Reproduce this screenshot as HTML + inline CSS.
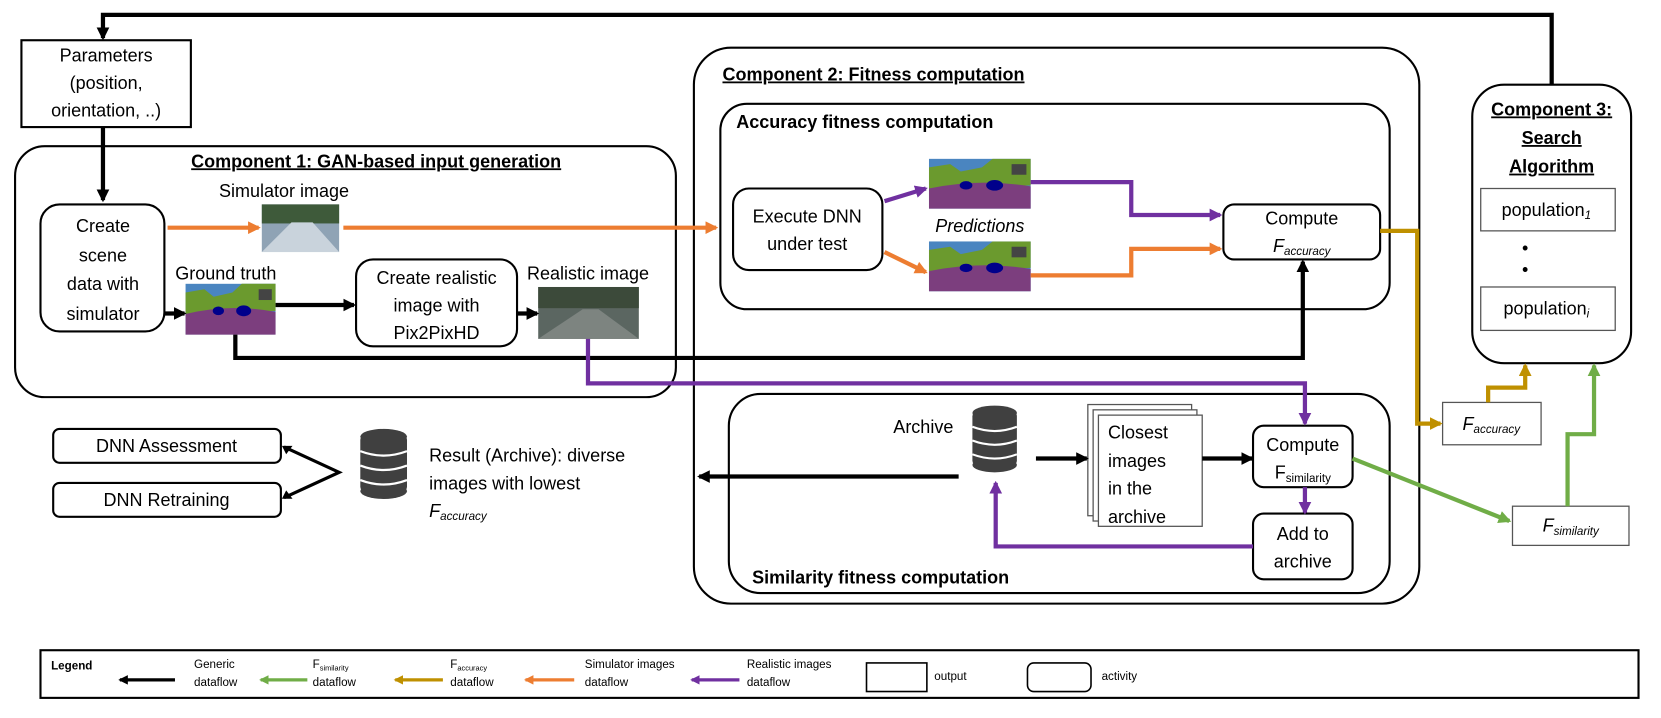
<!DOCTYPE html>
<html><head><meta charset="utf-8"><style>
html,body{margin:0;padding:0;background:#fff;}
svg{display:block;font-family:"Liberation Sans",sans-serif;}
</style></head><body>
<svg width="1661" height="718" viewBox="0 0 1568 678" xmlns="http://www.w3.org/2000/svg">
<defs>
<marker id="ak" viewBox="0 0 6 6" markerWidth="3" markerHeight="3" refX="5" refY="3" orient="auto" markerUnits="strokeWidth"><path d="M0,0 L6,3 L0,6 z" fill="#000"/></marker>
<marker id="ao" viewBox="0 0 6 6" markerWidth="3" markerHeight="3" refX="5" refY="3" orient="auto" markerUnits="strokeWidth"><path d="M0,0 L6,3 L0,6 z" fill="#ed7d31"/></marker>
<marker id="ap" viewBox="0 0 6 6" markerWidth="3" markerHeight="3" refX="5" refY="3" orient="auto" markerUnits="strokeWidth"><path d="M0,0 L6,3 L0,6 z" fill="#7030a0"/></marker>
<marker id="ag" viewBox="0 0 6 6" markerWidth="3" markerHeight="3" refX="5" refY="3" orient="auto" markerUnits="strokeWidth"><path d="M0,0 L6,3 L0,6 z" fill="#70ad47"/></marker>
<marker id="ay" viewBox="0 0 6 6" markerWidth="3" markerHeight="3" refX="5" refY="3" orient="auto" markerUnits="strokeWidth"><path d="M0,0 L6,3 L0,6 z" fill="#bf9000"/></marker>
<g id="seg">
<rect x="0" y="0" width="96" height="47" fill="#4a85c0"/>
<path d="M0,8 L20,5 L30,12 L50,8 L60,0 L96,0 L96,25 L0,28z" fill="#6b9a2e"/>
<rect x="78" y="5" width="14" height="10" fill="#444"/>
<path d="M0,28 Q48,18 96,26 L96,47 L0,47z" fill="#7c3e7e"/>
<ellipse cx="35" cy="25" rx="6" ry="4" fill="#00008b"/>
<ellipse cx="62" cy="25" rx="8" ry="5" fill="#00008b"/>
</g>
<g id="cyl">
<rect x="0" y="6" width="42" height="50" rx="4" fill="#404040"/>
<ellipse cx="21" cy="7" rx="21" ry="7" fill="#404040"/>
<ellipse cx="21" cy="56" rx="21" ry="7" fill="#404040"/>
<path d="M0,20 Q21,28 42,20 M0,33 Q21,41 42,33 M0,46 Q21,54 42,46" stroke="#fff" stroke-width="2" fill="none"/>
</g>
</defs>

<g fill="none" stroke="#000" stroke-width="2">
<polyline points="1465,80 1465,14 97,14 97,36" stroke-width="4" marker-end="url(#ak)"/>
<rect x="20" y="38" width="160" height="82" stroke-width="2"/>
<line x1="97" y1="120" x2="97" y2="189" stroke-width="4" marker-end="url(#ak)"/>
<rect x="14" y="138" width="624" height="237" rx="28"/>
<rect x="655" y="45" width="685" height="525" rx="35"/>
<rect x="680" y="98" width="632" height="194" rx="25"/>
<rect x="688" y="372" width="624" height="188" rx="30"/>
<rect x="1390" y="80" width="150" height="263" rx="30"/>
<rect x="38" y="193" width="117" height="120" rx="18"/>
<rect x="336" y="245" width="152" height="82" rx="16"/>
<rect x="692" y="178" width="141" height="77" rx="15"/>
<rect x="1155" y="193" width="148" height="52" rx="10"/>
<rect x="1183" y="402" width="94" height="58" rx="10"/>
<rect x="1183" y="485" width="94" height="62" rx="10"/>
<rect x="50" y="405" width="215" height="32" rx="6"/>
<rect x="50" y="456" width="215" height="32" rx="6"/>
</g>
<g fill="#fff" stroke="#555" stroke-width="1.2">
<rect x="1398" y="178" width="127" height="40"/>
<rect x="1398" y="271" width="127" height="41"/>
<rect x="1362" y="380" width="93" height="40"/>
<rect x="1428" y="478" width="110" height="37"/>
<rect x="1027" y="382" width="98" height="105"/>
<rect x="1032" y="387" width="98" height="105"/>
<rect x="1037" y="392" width="98" height="105"/>
</g>

<g>
<rect x="247" y="193" width="73" height="45" fill="#8fa3b5"/>
<rect x="247" y="193" width="73" height="18" fill="#3e5a3a"/>
<path d="M247,238 L275,210 L295,210 L320,238z" fill="#c9d3dc"/>
<rect x="508" y="271" width="95" height="49" fill="#5b6661"/>
<rect x="508" y="271" width="95" height="20" fill="#3c4a3a"/>
<path d="M508,320 L550,292 L565,292 L603,320z" fill="#7d8480"/>
<use href="#seg" transform="translate(175,268) scale(0.885,1.02)"/>
<use href="#seg" transform="translate(877,150)"/>
<use href="#seg" transform="translate(877,228)"/>
<use href="#cyl" transform="translate(918,383)"/>
<use href="#cyl" transform="translate(340,405) scale(1.05,1.05)"/>
</g>

<g fill="none" stroke-width="4">
<line x1="158" y1="215" x2="244" y2="215" stroke="#ed7d31" marker-end="url(#ao)"/>
<line x1="324" y1="215" x2="676" y2="215" stroke="#ed7d31" marker-end="url(#ao)"/>
<line x1="155" y1="296" x2="174" y2="296" stroke="#000" marker-end="url(#ak)"/>
<line x1="260" y1="288" x2="334" y2="288" stroke="#000" marker-end="url(#ak)"/>
<line x1="488" y1="296" x2="507" y2="296" stroke="#000" marker-end="url(#ak)"/>
<polyline points="222,316 222,338 1230,338 1230,247" stroke="#000" marker-end="url(#ak)"/>
<polyline points="555,320 555,362 1232,362 1232,400" stroke="#7030a0" marker-end="url(#ap)"/>
<line x1="835" y1="190" x2="874" y2="178" stroke="#7030a0" marker-end="url(#ap)"/>
<line x1="835" y1="238" x2="874" y2="257" stroke="#ed7d31" marker-end="url(#ao)"/>
<polyline points="973,172 1068,172 1068,203 1152,203" stroke="#7030a0" marker-end="url(#ap)"/>
<polyline points="973,260 1068,260 1068,235 1152,235" stroke="#ed7d31" marker-end="url(#ao)"/>
<polyline points="1303,218 1338,218 1338,400 1360,400" stroke="#bf9000" marker-end="url(#ay)"/>
<polyline points="1405,380 1405,366 1440,366 1440,345" stroke="#bf9000" marker-end="url(#ay)"/>
<line x1="1277" y1="433" x2="1425" y2="492" stroke="#70ad47" marker-end="url(#ag)"/>
<polyline points="1480,478 1480,410 1505,410 1505,345" stroke="#70ad47" marker-end="url(#ag)"/>
<line x1="978" y1="433" x2="1026" y2="433" stroke="#000" marker-end="url(#ak)"/>
<line x1="1135" y1="433" x2="1182" y2="433" stroke="#000" marker-end="url(#ak)"/>
<line x1="1232" y1="460" x2="1232" y2="484" stroke="#7030a0" marker-end="url(#ap)"/>
<polyline points="1183,516 940,516 940,456" stroke="#7030a0" marker-end="url(#ap)"/>
<line x1="905" y1="450" x2="660" y2="450" stroke="#000" marker-end="url(#ak)"/>
<polyline points="268,422 320,446 268,470" stroke="#000" stroke-width="3"/>
<path d="M266,421 l10,0 l-6,8z M266,471 l10,0 l-6,-8z" fill="#000" stroke="none"/>
</g>

<g font-size="17" fill="#000" text-anchor="middle">
<text x="100" y="58">Parameters</text>
<text x="100" y="84">(position,</text>
<text x="100" y="110">orientation, ..)</text>
<text x="355" y="158" font-weight="bold" text-decoration="underline">Component 1: GAN-based input generation</text>
<text x="97" y="219">Create</text>
<text x="97" y="247">scene</text>
<text x="97" y="274">data with</text>
<text x="97" y="302">simulator</text>
<text x="268" y="186">Simulator image</text>
<text x="213" y="264">Ground truth</text>
<text x="555" y="264">Realistic image</text>
<text x="412" y="268">Create realistic</text>
<text x="412" y="294">image with</text>
<text x="412" y="320">Pix2PixHD</text>
<text x="762" y="210">Execute DNN</text>
<text x="762" y="236">under test</text>
<text x="925" y="219" font-style="italic">Predictions</text>
<text x="1229" y="212">Compute</text>
<text x="1229" y="238" font-style="italic">F<tspan font-size="11" dy="3">accuracy</tspan></text>
<text x="1230" y="426">Compute</text>
<text x="1230" y="452">F<tspan font-size="11" dy="3">similarity</tspan></text>
<text x="1230" y="510">Add to</text>
<text x="1230" y="536">archive</text>
<text x="1408" y="406" font-style="italic">F<tspan font-size="11" dy="3">accuracy</tspan></text>
<text x="1483" y="502" font-style="italic">F<tspan font-size="11" dy="3">similarity</tspan></text>
<text x="1465" y="109" font-weight="bold" text-decoration="underline">Component 3:</text>
<text x="1465" y="136" font-weight="bold" text-decoration="underline">Search</text>
<text x="1465" y="163" font-weight="bold" text-decoration="underline">Algorithm</text>
<text x="1460" y="204">population<tspan font-size="11" dy="3" font-style="italic">1</tspan></text>
<text x="1460" y="297">population<tspan font-size="11" dy="3" font-style="italic">i</tspan></text>
<text x="1440" y="240">•</text>
<text x="1440" y="260">•</text>
<text x="157" y="427">DNN Assessment</text>
<text x="157" y="478">DNN Retraining</text>
</g>
<g font-size="17" fill="#000">
<text x="682" y="76" font-weight="bold" text-decoration="underline">Component 2: Fitness computation</text>
<text x="695" y="121" font-weight="bold">Accuracy fitness computation</text>
<text x="710" y="551" font-weight="bold">Similarity fitness computation</text>
<text x="900" y="409" text-anchor="end">Archive</text>
<text x="1046" y="414">Closest</text>
<text x="1046" y="441">images</text>
<text x="1046" y="467">in the</text>
<text x="1046" y="494">archive</text>
<text x="405" y="436">Result (Archive): diverse</text>
<text x="405" y="462">images with lowest</text>
<text x="405" y="488" font-style="italic">F<tspan font-size="11" dy="3">accuracy</tspan></text>
</g>

<rect x="38" y="614" width="1509" height="45" fill="none" stroke="#000" stroke-width="2"/>
<g font-size="11" fill="#000">
<text x="48" y="632" font-weight="bold">Legend</text>
<text x="183" y="631">Generic</text><text x="183" y="648">dataflow</text>
<text x="295" y="631">F<tspan font-size="7" dy="2">similarity</tspan></text><text x="295" y="648">dataflow</text>
<text x="425" y="631">F<tspan font-size="7" dy="2">accuracy</tspan></text><text x="425" y="648">dataflow</text>
<text x="552" y="631">Simulator images</text><text x="552" y="648">dataflow</text>
<text x="705" y="631">Realistic images</text><text x="705" y="648">dataflow</text>
<text x="882" y="642">output</text>
<text x="1040" y="642">activity</text>
</g>
<g stroke-width="3" fill="none">
<line x1="165" y1="642" x2="113" y2="642" stroke="#000" marker-end="url(#ak)"/>
<line x1="290" y1="642" x2="246" y2="642" stroke="#70ad47" marker-end="url(#ag)"/>
<line x1="418" y1="642" x2="373" y2="642" stroke="#bf9000" marker-end="url(#ay)"/>
<line x1="542" y1="642" x2="496" y2="642" stroke="#ed7d31" marker-end="url(#ao)"/>
<line x1="698" y1="642" x2="653" y2="642" stroke="#7030a0" marker-end="url(#ap)"/>
</g>
<rect x="818" y="626" width="57" height="27" fill="none" stroke="#000" stroke-width="1.5"/>
<rect x="970" y="626" width="60" height="27" rx="6" fill="none" stroke="#000" stroke-width="1.5"/>
</svg>
</body></html>
